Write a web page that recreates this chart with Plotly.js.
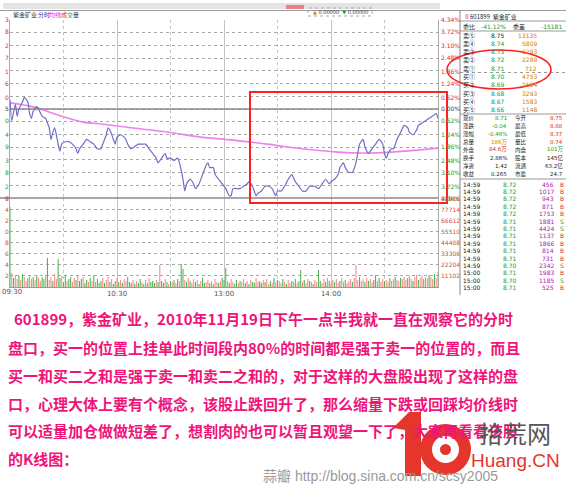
<!DOCTYPE html>
<html><head><meta charset="utf-8">
<script src="https://cdn.plot.ly/plotly-3.0.1.min.js"></script>
<style>html,body{margin:0;padding:0;background:#fff;}#chart{width:566px;height:484px;}</style>
</head><body><div id="chart"></div>
<script>
// ---------- data ----------
const priceMinutes = [0,1,3,4,5,7,8,10,11,12,
13,15,16,18,20,21,22,23,24,25,
26,27,28,29,31,33,35,37,38,39,
41,43,45,47,49,51,52,54,55,56,
58,59,60,62,64,65,66,68,70,72,
74,76,78,80,82,83,85,87,88,90,
92,94,96,97,98,99,101,103,104,106,
108,110,111,112,114,115,117,119,121,123,
124,125,128,129,131,133,134,136,138,139,
141,143,145,147,149,150,152,154,156,158,
160,162,164,166,168,170,171,173,175,177,
179,180,182,184,185,187,188,190,192,194,
195,196,198,199,201,203,205,207,209,210,
211,212,214,215,217,219,221,223,224,226,
228,229,231,233,235,237,239,240];
const prices = [8.79,8.70,8.77,8.72,8.75,8.78,8.80,8.78,8.73,8.71,
8.74,8.76,8.75,8.72,8.71,8.69,8.67,8.62,8.65,8.67,
8.64,8.60,8.57,8.60,8.61,8.61,8.60,8.58,8.56,8.58,
8.60,8.62,8.61,8.60,8.58,8.58,8.60,8.64,8.67,8.66,
8.62,8.60,8.63,8.64,8.63,8.62,8.60,8.58,8.59,8.60,
8.60,8.60,8.58,8.56,8.54,8.52,8.54,8.56,8.54,8.54,
8.53,8.54,8.49,8.45,8.40,8.43,8.45,8.43,8.41,8.43,
8.47,8.51,8.52,8.50,8.50,8.47,8.45,8.43,8.41,8.38,
8.38,8.41,8.41,8.41,8.42,8.43,8.44,8.42,8.38,8.39,
8.40,8.42,8.42,8.41,8.38,8.40,8.40,8.42,8.45,8.47,
8.44,8.42,8.40,8.40,8.42,8.42,8.42,8.41,8.43,8.45,
8.43,8.44,8.45,8.47,8.50,8.52,8.50,8.48,8.48,8.52,
8.56,8.60,8.62,8.59,8.56,8.58,8.60,8.62,8.60,8.56,
8.54,8.56,8.58,8.58,8.62,8.65,8.68,8.67,8.65,8.64,
8.66,8.68,8.69,8.70,8.71,8.72,8.73,8.71];
const avgMinutes = [0,13,22,32,41,51,69,88,107,125,144,165,184,202,221,240];
const avgPrices = [8.776,8.759,8.737,8.712,8.694,8.686,8.669,8.652,8.630,8.617,8.600,8.579,8.566,8.562,8.570,8.583];
const volumes = [80000,
14000,9000,12000,8000,11000,7000,13000,10000,6000,9000,
12000,8000,10000,7000,11000,9000,6000,10000,8000,12000,
29000,7000,10000,6000,13000,8000,28000,9000,11000,5000,
12000,6000,8000,10000,5000,9000,7000,11000,6000,8000,
10000,4000,7000,5000,9000,6000,12000,5000,8000,4000,
6000,9000,4000,7000,10000,5000,8000,3000,6000,9000,
5000,7000,4000,8000,6000,10000,5000,4000,7000,3000,
6000,4000,8000,5000,3000,7000,4000,9000,5000,6000,
4000,7000,5000,22000,6000,4000,8000,5000,3000,6000,
5000,7000,4000,8000,6000,23000,18000,7000,5000,9000,
6000,4000,8000,5000,7000,3000,6000,9000,4000,5000,
7000,4000,6000,3000,8000,5000,4000,6000,9000,7000,
19000,6000,4000,8000,5000,3000,7000,4000,6000,5000,
8000,4000,6000,3000,7000,5000,4000,9000,5000,6000,
4000,7000,5000,8000,3000,6000,4000,9000,5000,7000,
6000,4000,8000,5000,3000,7000,4000,6000,5000,8000,
4000,6000,17000,5000,7000,4000,8000,6000,5000,3000,
7000,5000,17000,6000,4000,8000,5000,9000,6000,4000,
7000,5000,8000,4000,6000,9000,5000,7000,4000,6000,
8000,5000,9000,22000,7000,10000,6000,8000,5000,9000,
6000,8000,5000,7000,12000,6000,9000,5000,8000,6000,
7000,5000,9000,6000,8000,10000,7000,6000,9000,8000,
10000,7000,9000,11000,8000,6000,10000,12000,7000,9000,
11000,8000,10000,9000,12000,10000,8000,13000,9000,15000];
const volDirs = 'g' +
'rgrrgrgrrg'+'rrgrgrrggr'+'grrgrrggrg'+'grggrrgrgg'+'rggrgrgrgg'+'grgrrgrggr'+
'grgrrgggrg'+'rggrgrgrgg'+'grgrggrgrg'+'rgrgrggrgr'+'grrgrgrggr'+'rgrgrrgrgg'+
'grgrrggrgr'+'rgrgrggrrg'+'grgrrgrgrg'+'rrgrgrrgrg'+'rggrgrrgrg'+'rrggrrgrgr'+
'rgrrgrrgrr'+'rgrrrgrrgr'+'grrggrgrrg'+'rrgrrgrrgr'+'rrgrrgrrgr'+'rgrrgrrgrr';
const timeTickVals = [0,60,120,180,240];
const timeTickText = ['','10:30','13:00','14:00',''];
const openLabel = '09:30';
const priceTicks = [9.13,9.08,9.02,8.97,8.91,8.86,8.80,8.75,8.70,8.64,8.59,8.53,8.48,8.42,8.37];
const pctTicks = ['4.34%','3.72%','3.10%','2.48%','1.86%','1.24%','0.62%','0.00%','0.62%','1.24%','1.86%','2.48%','3.10%','3.72%','4.34%'];
const volTicks = [88816,77714,66612,55510,44408,33306,22204,11102];
const prevClose = 8.75;

const orderLabels = ['卖⑤','卖④','卖③','卖②','卖①','买①','买②','买③','买④','买⑤'];
const orderPrices = ['8.75','8.74','8.73','8.72','8.71','8.70','8.69','8.68','8.67','8.66'];
const orderVols = ['13135','5809','6293','2289','712','4753','1554','3293','1583','1148'];
const statL = ['现价','涨跌','涨幅','总量','外盘','换手','净资','收益'];
const statLV = ['8.71','-0.04','-0.46%','186万','84.6万','2.86%','1.42','0.265'];
const statR = ['今开','最高','最低','量比','内盘','股本','流通','市盈'];
const statRV = ['8.75','8.88','8.37','0.74','101万','145亿','63.2亿','24.7'];
const tickTimes = ['14:59','14:59','14:59','14:59','14:59','14:59','14:59','14:59','14:59','14:59','14:59','14:59','15:00','15:00','15:00'];
const tickPrices = ['8.72','8.72','8.72','8.72','8.72','8.71','8.71','8.71','8.71','8.71','8.71','8.70','8.71','8.70','8.71'];
const tickVols = ['456','1017','943','871','1753','1881','4424','1137','1866','814','731','2342','1983','1185','525'];
const tickSides = ['B','B','B','B','B','S','S','B','B','B','B','S','B','S','B'];

const textLines = [
 '601899，紫金矿业，2010年11月19日下午一点半我就一直在观察它的分时',
 '盘口，买一的位置上挂单此时间段内80%的时间都是强于卖一的位置的，而且',
 '买一和买二之和是强于卖一和卖二之和的，对于这样的大盘股出现了这样的盘',
 '口，心理大体上要有个概念，该股止跌回升了，那么缩量下跌或回踩均价线时',
 '可以适量加仓做做短差了，想割肉的也可以暂且观望一下了，大家再看看该股',
 '的K线图：'
];

// ---------- helpers ----------
const W = 566, H = 484;
const px = x => x / W;
const py = y => 1 - y / H;
const CJK = 'Noto Sans CJK SC, sans-serif';
const NUM = 'DejaVu Sans, Noto Sans CJK SC, sans-serif';
function A(x, y, text, o) {
  o = o || {};
  return {xref:'paper', yref:o.yref||'paper', x:px(x), y:(o.yref? y : py(y)), text:text, showarrow:false,
    xanchor:o.xa||'left', yanchor:o.ya||'middle', borderpad:0,
    font:{size:o.size||6, color:o.color||'#222', family:o.family||CJK}};
}
const RED='#E02828', GRN='#1E9A1E';

const annotations = [];
priceTicks.forEach((p,i)=>{
  const c = p > prevClose ? RED : (p < prevClose ? GRN : '#444');
  const s = p.toFixed(2);
  annotations.push(A(7, p, s.slice(-1), {yref:'y', xa:'center', color:c, family:NUM}));
  annotations.push(A(440, p, pctTicks[i], {yref:'y', color:c, family:NUM}));
});
volTicks.forEach(v=>{
  const s = String(v);
  annotations.push(A(7, v, s.slice(-1), {yref:'y2', xa:'center', color:'#D0503A', family:NUM}));
  annotations.push(A(440, v, s, {yref:'y2', color:'#D0503A', family:NUM}));
});
annotations.push(A(1, 292, openLabel, {size:7, color:'#555', family:NUM}));
// legend row
annotations.push(A(12,15,'紫金矿业',{color:'#333'}));
annotations.push(A(37,15,'分时',{color:'#3030C0'}));
annotations.push(A(48,15,'均线',{color:'#E020E0'}));
annotations.push(A(60,15,'<span style="color:#E02828">成</span><span style="color:#1E9A1E">交</span>量',{color:'#333'}));
annotations.push(A(312,12,'<span style="color:#C09000">▲</span> 0.00000  <span style="color:#1E9A1E">▼</span> 0.00000',{size:5,color:'#333',family:NUM}));
// right panel header
annotations.push(A(463,16,'<span style="color:#E02828">Ⅱ</span>601899  紫金矿业',{size:6,color:'#222'}));
annotations.push(A(462,26,'委比',{}));
annotations.push(A(507,26,'-41.12%',{xa:'right',color:GRN,family:NUM}));
annotations.push(A(512,26,'委差',{}));
annotations.push(A(563,26,'-15181',{xa:'right',color:GRN,family:NUM}));
orderLabels.forEach((l,i)=>{
  const y = 35 + i*8.33;
  const p = parseFloat(orderPrices[i]);
  annotations.push(A(462,y,l,{}));
  annotations.push(A(506,y,orderPrices[i],{xa:'right',color:p>=prevClose?'#222':GRN,family:NUM}));
  annotations.push(A(538,y,orderVols[i],{xa:'right',color:'#D08000',family:NUM}));
});
statL.forEach((l,i)=>{
  const y = 118 + i*8;
  const lc = [GRN,GRN,GRN,'#D08000',RED,'#222','#222','#222'][i];
  const rc = [RED,RED,RED,RED,GRN,'#222','#222','#222'][i];
  annotations.push(A(462,y,l,{size:5.5}));
  annotations.push(A(508,y,statLV[i],{xa:'right',color:lc,family:NUM,size:5.5}));
  annotations.push(A(514,y,statR[i],{size:5.5}));
  annotations.push(A(564,y,statRV[i],{xa:'right',color:rc,family:NUM,size:5.5}));
});
tickTimes.forEach((t,i)=>{
  const y = 184 + i*7.4;
  annotations.push(A(462,y,t,{family:NUM}));
  annotations.push(A(518,y,tickPrices[i],{xa:'right',color:GRN,family:NUM}));
  annotations.push(A(555,y,tickVols[i],{xa:'right',color:'#B020B0',family:NUM}));
  annotations.push(A(559,y,tickSides[i],{color:tickSides[i]==='B'?RED:GRN,family:NUM}));
});
// body text
const lineY = [318,347,375,403,430,458];
textLines.forEach((t,i)=>{
  annotations.push(A(i===0?13:7, lineY[i], '<b>'+t+'</b>', {size:15, color:'#F0147A'}));
});
// watermark
annotations.push(A(478,432,'拾荒网',{size:24,color:'#555'}));
annotations.push(A(470,460,'Huang.CN',{size:19,color:'#E5352D',family:'Liberation Sans, Arial, sans-serif'}));
annotations.push(A(262,476,'蒜瓣 http://blog.sina.com.cn/scsy2005',{size:14,color:'#9a9a9a',family:'Liberation Sans, Arial, Noto Sans CJK SC, sans-serif'}));

function P(pts){ return 'M' + pts.map(p=>px(p[0])+','+py(p[1])).join(' L') + ' Z'; }
const shapes = [
  {type:'rect',xref:'paper',yref:'paper',x0:px(3),x1:px(440),y0:py(9),y1:py(3),fillcolor:'#e4e4e4',line:{width:0}},
  {type:'rect',xref:'paper',yref:'paper',x0:px(286),x1:px(304),y0:py(9),y1:py(5),fillcolor:'#f08080',line:{width:0}},
  {type:'rect',xref:'paper',yref:'paper',x0:px(308),x1:px(372),y0:py(16),y1:py(8),fillcolor:'rgba(0,0,0,0)',line:{width:1,color:'#9ab',dash:'dot'}},
  {type:'line',xref:'paper',yref:'paper',x0:0,x1:1,y0:py(10.5),y1:py(10.5),line:{width:1,color:'#999'}},
  {type:'line',xref:'paper',yref:'paper',x0:px(460),x1:px(460),y0:py(11),y1:py(295),line:{width:1,color:'#888'}},
  {type:'line',xref:'paper',yref:'paper',x0:px(460),x1:1,y0:py(21),y1:py(21),line:{width:1,color:'#999'}},
  {type:'line',xref:'paper',yref:'paper',x0:px(460),x1:1,y0:py(31),y1:py(31),line:{width:1,color:'#999'}},
  {type:'line',xref:'paper',yref:'paper',x0:px(460),x1:1,y0:py(72.5),y1:py(72.5),line:{width:1,color:'#999',dash:'dot'}},
  {type:'line',xref:'paper',yref:'paper',x0:px(460),x1:1,y0:py(114),y1:py(114),line:{width:1,color:'#999'}},
  {type:'line',xref:'paper',yref:'paper',x0:px(460),x1:1,y0:py(179),y1:py(179),line:{width:1,color:'#999'}},
  {type:'line',xref:'x',yref:'y',x0:0,x1:240,y0:prevClose,y1:prevClose,line:{width:1.5,color:'#888'}},
  {type:'line',xref:'paper',yref:'paper',x0:px(0),x1:px(438),y0:py(198),y1:py(198),line:{width:1.5,color:'#888'}},
  {type:'rect',xref:'paper',yref:'paper',x0:px(250),x1:px(447),y0:py(203),y1:py(92),line:{width:2,color:'#FF2020'}},
  {type:'circle',xref:'paper',yref:'paper',x0:px(447),x1:px(551),y0:py(89),y1:py(50),line:{width:1.5,color:'#FF2020'}},
  {type:'path',xref:'paper',yref:'paper',path:P([[393,428],[409,412],[421,412],[421,476],[405,476],[405,430]]),fillcolor:'#E5352D',line:{width:0}},
  {type:'circle',xref:'paper',yref:'paper',x0:px(420),x1:px(471),y0:py(475),y1:py(424),fillcolor:'#E5352D',line:{width:0}},
  {type:'circle',xref:'paper',yref:'paper',x0:px(432),x1:px(459),y0:py(463),y1:py(436),fillcolor:'#fff',line:{width:0}},
  {type:'circle',xref:'paper',yref:'paper',x0:px(440),x1:px(451),y0:py(455),y1:py(444),fillcolor:'#E5352D',line:{width:0}}
];

const traces = [
  {x:volumes.map((v,i)=>i), y:volumes, type:'bar', xaxis:'x2', yaxis:'y2', width:0.6,
   marker:{color:volDirs.split('').map(d=>d==='r'?'rgb(244,140,140)':'rgb(80,180,80)'), line:{width:0}}, hoverinfo:'skip'},
  {x:avgMinutes, y:avgPrices, type:'scatter', mode:'lines', line:{color:'#EE82EE', width:1.6, shape:'spline'}, hoverinfo:'skip'},
  {x:priceMinutes, y:prices, type:'scatter', mode:'lines', line:{color:'#6E6EC4', width:1.2, shape:'spline', smoothing:0.6}, hoverinfo:'skip'}
];

const gridX = {tickvals:timeTickVals, showgrid:true, gridcolor:'#c4c4c4', gridwidth:1,
  minor:{tickvals:[30,90,150,210], showgrid:true, gridcolor:'#c4c4c4', griddash:'dot'}};
const layout = {
  width:W, height:H, margin:{l:0,r:0,t:0,b:0}, paper_bgcolor:'#fff', plot_bgcolor:'#fff', showlegend:false,
  xaxis:Object.assign({domain:[px(10),px(438)], range:[0,240], anchor:'y', showticklabels:false, zeroline:false, ticks:''}, gridX),
  xaxis2:Object.assign({domain:[px(10),px(438)], range:[0,240], anchor:'y2', matches:'x', ticktext:timeTickText,
    showticklabels:true, tickfont:{size:7,color:'#555',family:NUM}, ticks:'', zeroline:false,
    showline:true, linecolor:'#999', tickmode:'array'}, gridX),
  yaxis:{domain:[py(198),py(20)], range:[8.37,9.13], tick0:8.37, dtick:0.76/14, showticklabels:false,
    showgrid:true, gridcolor:'#a8a8a8', griddash:'dot', zeroline:false, showline:true, mirror:true, linecolor:'#aaa', ticks:''},
  yaxis2:{domain:[py(287),py(198)], range:[0,88816], tick0:0, dtick:11102, showticklabels:false,
    showgrid:true, gridcolor:'#a8a8a8', griddash:'dot', zeroline:false, showline:true, mirror:true, linecolor:'#aaa', ticks:''},
  annotations:annotations, shapes:shapes
};
Plotly.newPlot('chart', traces, layout, {staticPlot:true, displayModeBar:false});
</script></body></html>
